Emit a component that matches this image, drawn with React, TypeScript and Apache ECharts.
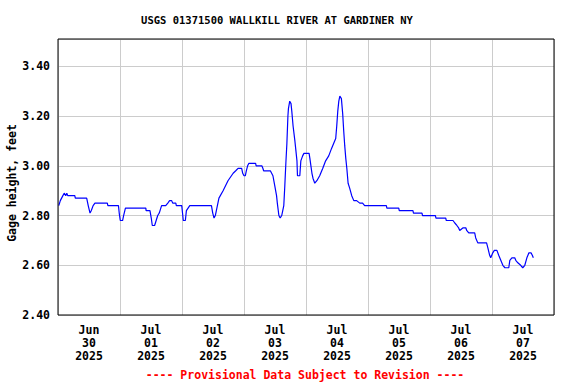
import React, { useEffect, useRef } from "react";
import * as echarts from "echarts";

const titleText = "USGS 01371500 WALLKILL RIVER AT GARDINER NY";
const yAxisTitle = "Gage height, feet";
const footerText = "---- Provisional Data Subject to Revision ----";

// Day labels (centred at noon of each day)
const dayLabels = [
  "Jun\n30\n2025",
  "Jul\n01\n2025",
  "Jul\n02\n2025",
  "Jul\n03\n2025",
  "Jul\n04\n2025",
  "Jul\n05\n2025",
  "Jul\n06\n2025",
  "Jul\n07\n2025",
];

// Hours since Jun 30 2025 00:00
const hours = [
  0.3, 0.9, 1.9, 2.4, 3.0, 3.4, 3.8, 6.5, 6.7, 11.1, 11.3, 11.7, 12.4, 12.9, 13.6, 14.3,
  19.1, 19.3, 23.4, 23.7, 24.1, 25.0, 25.4, 26.1, 34.0, 34.1, 35.6, 36.1, 36.5, 37.4,
  38.0, 38.6, 39.2, 39.8, 40.1, 41.7, 42.5, 43.2, 44.0, 44.4, 45.6, 45.8, 47.9, 48.2,
  48.5, 49.3, 49.7, 51.0, 59.4, 59.9, 60.4, 60.9, 61.3, 62.3, 63.9, 65.8, 67.8, 68.8,
  69.7, 70.7, 71.1, 71.5, 72.0, 72.5, 72.9, 73.4, 73.9, 76.5, 76.7, 78.9, 79.3, 79.6,
  82.2, 82.7, 83.2, 83.9, 84.6, 84.9, 85.5, 86.0, 86.6, 87.0, 87.4, 87.8, 88.2, 88.6,
  89.0, 89.2, 89.7, 90.2, 90.5, 91.0, 91.7, 92.1, 92.5, 92.7, 93.6, 94.0, 94.7, 95.2,
  97.2, 97.5, 97.9, 98.3, 98.7, 99.4, 100.2, 101.3, 102.5, 103.6, 104.8, 105.9, 106.7,
  107.5, 107.9, 108.3, 108.7, 109.1, 109.7, 110.2, 110.6, 111.0, 111.4, 111.8, 112.3,
  112.9, 113.7, 114.5, 115.6, 116.8, 117.9, 118.7, 127.1, 127.3, 131.9, 132.1, 137.4,
  137.6, 140.9, 141.1, 146.1, 146.3, 150.1, 150.3, 152.9, 153.6, 154.4, 155.1, 155.5,
  156.7, 157.9, 158.2, 159.0, 161.3, 161.7, 162.5, 165.9, 166.4, 167.1, 167.5, 168.3,
  168.9, 169.9, 170.6, 171.4, 172.2, 173.0, 174.5, 174.9, 175.7, 176.8, 177.2, 178.0,
  179.1, 179.9, 180.7, 181.5, 182.3, 183.1, 183.6, 184.0,
];

// Gage height, feet
const gage = [
  2.84, 2.86, 2.88, 2.89, 2.88, 2.89, 2.88, 2.88, 2.87, 2.87, 2.86, 2.84, 2.81, 2.82, 2.84, 2.85,
  2.85, 2.84, 2.84, 2.81, 2.78, 2.78, 2.80, 2.83, 2.83, 2.82, 2.82, 2.79, 2.76, 2.76,
  2.78, 2.80, 2.81, 2.83, 2.84, 2.84, 2.85, 2.86, 2.86, 2.85, 2.85, 2.84, 2.84, 2.81,
  2.78, 2.78, 2.82, 2.84, 2.84, 2.81, 2.79, 2.80, 2.82, 2.87, 2.90, 2.94, 2.97, 2.98,
  2.99, 2.99, 2.99, 2.97, 2.96, 2.96, 2.98, 3.00, 3.01, 3.01, 3.00, 3.00, 2.99, 2.98,
  2.98, 2.97, 2.96, 2.92, 2.88, 2.85, 2.80, 2.79, 2.80, 2.82, 2.84, 2.92, 3.01, 3.09,
  3.20, 3.23, 3.26, 3.25, 3.22, 3.16, 3.10, 3.06, 3.02, 2.96, 2.96, 3.02, 3.04, 3.05,
  3.05, 3.03, 3.00, 2.97, 2.95, 2.93, 2.94, 2.96, 2.99, 3.02, 3.04, 3.07, 3.09,
  3.11, 3.16, 3.22, 3.26, 3.28, 3.27, 3.21, 3.14, 3.08, 3.03, 2.99, 2.93,
  2.91, 2.88, 2.86, 2.86, 2.85, 2.85, 2.84, 2.84, 2.83, 2.83, 2.82, 2.82,
  2.81, 2.81, 2.80, 2.80, 2.79, 2.79, 2.78, 2.78, 2.77, 2.76, 2.75, 2.74,
  2.75, 2.75, 2.74, 2.73, 2.73, 2.71, 2.69, 2.69, 2.67, 2.64, 2.63, 2.65,
  2.66, 2.66, 2.64, 2.62, 2.60, 2.59, 2.59, 2.62, 2.63, 2.63, 2.62, 2.61,
  2.60, 2.59, 2.60, 2.63, 2.65, 2.65, 2.64, 2.63,
];

const yTicks = [2.4, 2.6, 2.8, 3.0, 3.2, 3.4];

const FONT = "'DejaVu Sans Mono', monospace";

export default function App() {
  const ref = useRef<HTMLDivElement>(null);

  useEffect(() => {
    if (!ref.current) return;
    const chart = echarts.init(ref.current, null, { renderer: "svg" });
    const seriesData = hours.map((h, i) => [h, gage[i]]);
    chart.setOption({
      animation: false,
      backgroundColor: "#ffffff",
      grid: {
        left: 58,
        right: 22,
        top: 39,
        bottom: 69,
        show: true,
        borderColor: "#000000",
        borderWidth: 1,
        backgroundColor: "transparent",
        z: 3,
      },
      xAxis: [
        {
          type: "value",
          min: 0,
          max: 192,
          interval: 24,
          axisLabel: { show: false },
          axisTick: { show: false },
          axisLine: { show: false },
          splitLine: { show: true, lineStyle: { color: "#cccccc", width: 1 } },
        },
        {
          type: "category",
          position: "bottom",
          data: dayLabels,
          boundaryGap: true,
          axisLine: { show: false },
          axisTick: { show: false },
          splitLine: { show: false },
          axisLabel: {
            interval: 0,
            margin: 8,
            color: "#000000",
            fontFamily: FONT,
            fontWeight: "bold",
            fontSize: 11.5,
            lineHeight: 13,
            align: "center",
          },
        },
      ],
      yAxis: {
        type: "value",
        min: 2.4,
        max: 3.51,
        interval: 0.2,
        axisLine: { show: false },
        axisTick: { show: false },
        splitLine: { show: true, lineStyle: { color: "#cccccc", width: 1 } },
        axisLabel: {
          margin: 8,
          color: "#000000",
          fontFamily: FONT,
          fontWeight: "bold",
          fontSize: 11.5,
          showMaxLabel: false,
          formatter: (v: number) =>
            yTicks.some((t) => Math.abs(t - v) < 1e-6) ? v.toFixed(2) : "",
        },
      },
      series: [
        {
          type: "line",
          xAxisIndex: 0,
          yAxisIndex: 0,
          data: seriesData,
          showSymbol: false,
          lineStyle: { color: "#0000ff", width: 1.2 },
          z: 2,
        },
      ],
      graphic: [
        {
          type: "text",
          x: 277,
          y: 20,
          style: {
            text: titleText,
            fill: "#000000",
            font: `bold 10.5px ${FONT}`,
            align: "center",
            verticalAlign: "middle",
          },
        },
        {
          type: "text",
          x: 12,
          y: 183,
          rotation: Math.PI / 2,
          style: {
            text: yAxisTitle,
            fill: "#000000",
            font: `bold 11.5px ${FONT}`,
            align: "center",
            verticalAlign: "middle",
          },
        },
        {
          type: "text",
          x: 305,
          y: 375,
          style: {
            text: footerText,
            fill: "#ff0000",
            font: `bold 11.5px ${FONT}`,
            align: "center",
            verticalAlign: "middle",
          },
        },
      ],
    });
    return () => chart.dispose();
  }, []);

  return (
    <div
      ref={ref}
      style={{ position: "fixed", left: 0, top: 0, width: 576, height: 384, background: "#fff" }}
    />
  );
}
